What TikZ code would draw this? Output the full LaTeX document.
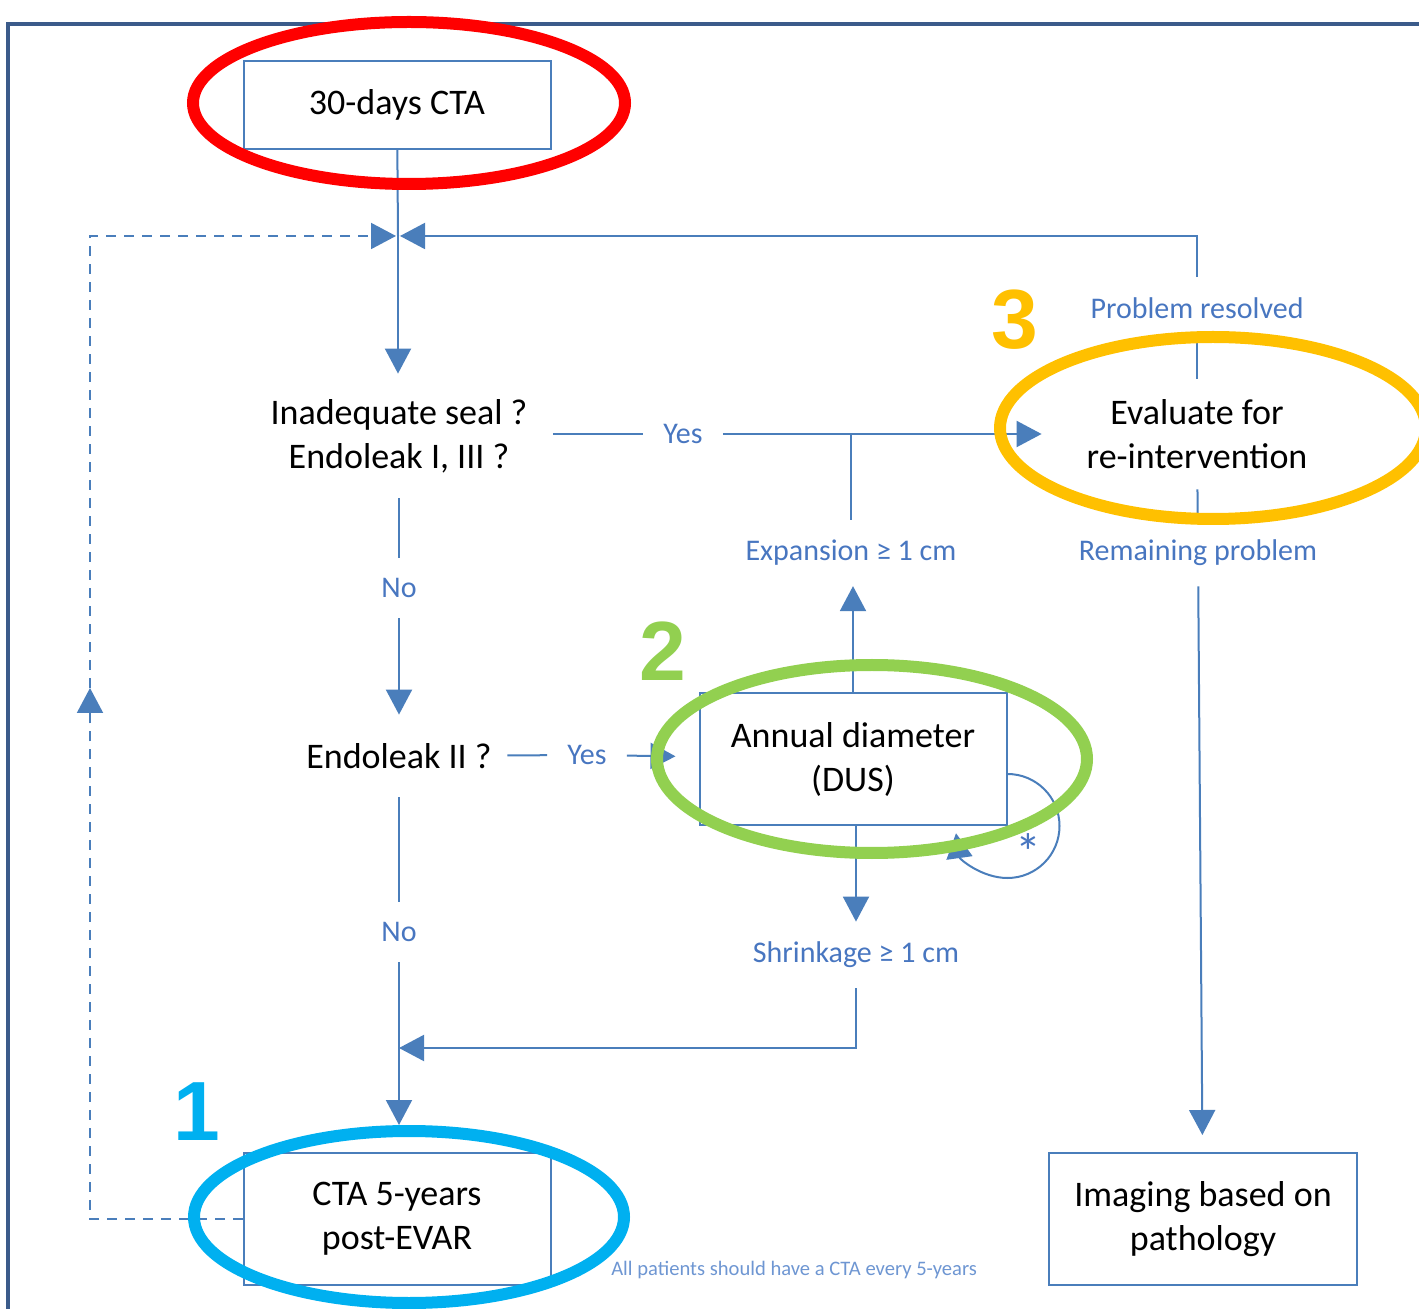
\documentclass[tikz,border=0pt]{standalone}
\usepackage{fontspec}
\setmainfont{Carlito}
\newfontfamily\numfont{Liberation Sans}
\usetikzlibrary{arrows.meta, positioning, calc}
\definecolor{lineblue}{RGB}{74,126,187}
\definecolor{labelblue}{RGB}{72,118,192}
\definecolor{noteblue}{RGB}{110,150,210}
\definecolor{framedark}{RGB}{59,91,138}
\definecolor{markred}{RGB}{255,0,0}
\definecolor{markcyan}{RGB}{0,176,240}
\definecolor{markgreen}{RGB}{146,208,80}
\definecolor{markamber}{RGB}{255,192,0}

\begin{document}
\begin{tikzpicture}[
    x=0.5pt, y=-0.5pt,
    every node/.style={font=\fontsize{18}{22}\selectfont},
    box/.style={rectangle, draw=lineblue, line width=1pt, minimum width=153.5pt, minimum height=66pt, align=center},
    question/.style={rectangle, align=center, inner sep=0pt},
    lbl/.style={font=\fontsize{15}{18}\selectfont, text=labelblue, inner xsep=10pt, inner ysep=10pt},
    arrow/.style={-{Triangle[length=12.5pt, width=13pt]}, lineblue, line width=1pt},
    link/.style={lineblue, line width=1pt},
    dashlink/.style={lineblue, line width=1pt, dash pattern=on 5pt off 4pt},
    ring/.style={line width=6pt},
    digit/.style={font=\numfont\bfseries\fontsize{42}{42}\selectfont}
]
\useasboundingbox (0,0) rectangle (1419,1309);
% frame
\draw[framedark, line width=2pt] (8,1330) -- (8,24) -- (1440,24);

% boxes and questions
\node[box, minimum height=44pt] (cta30) at (397,105) {30-days CTA};
\node[question, minimum width=153.5pt, minimum height=62pt] (seal) at (399,436) {Inadequate seal ?\\Endoleak I, III ?};
\node[question, minimum width=155pt, minimum height=55pt] (eval) at (1197,434) {Evaluate for\\re-intervention};
\node[question, minimum width=108pt, minimum height=41pt] (leak2) at (399,756) {Endoleak II ?};
\node[box] (dus) at (853,759) {Annual diameter\\(DUS)};
\node[box] (cta5) at (397,1219) {CTA 5-years\\post-EVAR};
\node[box, minimum width=154pt] (img) at (1203,1219) {Imaging based on\\pathology};

% connector labels
\node[lbl] (yes1) at (683,434) {Yes};
\node[lbl] (yes2) at (587,755) {Yes};
\node[lbl] (no1) at (399,588) {No};
\node[lbl] (no2) at (399,932) {No};
\node[lbl] (exp) at (851,553) {Expansion ≥ 1 cm};
\node[lbl] (shr) at (856,955) {Shrinkage ≥ 1 cm};
\node[lbl] (res) at (1197,308) {Problem resolved};
\node[lbl] (rem) at (1198,553) {Remaining problem};
\node[lbl, font=\fontsize{26}{26}\selectfont, inner sep=0pt] (star) at (1028,852) {*};
\node[font=\fontsize{10.3}{12}\selectfont, text=noteblue, inner sep=0pt] (note) at (780,1270) {*\hspace{9pt}All patients should have a CTA every 5-years};

\coordinate (mrg) at (398,236);
\coordinate (upmid) at (90,688);
\coordinate (join) at (399,1048);

% flow
\draw[link] (cta30) -- (mrg);
\draw[arrow] (mrg) -- (mrg |- seal.north);
\draw[link] (seal.east |- yes1) -- (yes1);
\draw[arrow] (yes1) -- (eval);
\draw[link] (exp.north) -- (exp.north |- eval.west);
\draw[link] (seal) -- (no1);
\draw[arrow] (no1) -- (leak2);
\draw[link] (leak2) -- (yes2);
\draw[arrow, shorten >=11.5pt] (yes2) -- (dus);
\draw[arrow] (dus.north) -- (dus.north |- exp.south);
\draw[arrow] (dus.south -| shr) -- (shr);
\draw[arrow] (shr) |- (join);
\draw[arrow] ($(dus.south east)+(0,-52)$) arc[start angle=-90, end angle=172, radius=52];
\draw[link] (leak2) -- (no2);
\draw[arrow, shorten >=13.5pt] (no2) -- (no2 |- cta5.north);
\draw[link] (res) -- (eval);
\draw[arrow, shorten >=1pt] (res) |- (mrg);
\draw[link] (eval) -- (rem);
\draw[arrow, shorten >=8.5pt] (rem) -- (img);
\draw[dashlink, -{Triangle[length=12.5pt, width=13pt]}] (cta5.west) -| (upmid);
\draw[dashlink, -{Triangle[length=12.5pt, width=13pt]}, shorten >=1pt] (upmid) |- (mrg);

% highlight rings
\draw[ring, markred] (409,103) ellipse[x radius=216, y radius=81];
\draw[ring, markamber] (1213,428) ellipse[x radius=213, y radius=91];
\draw[ring, markgreen] (872,759) ellipse[x radius=215, y radius=94];
\draw[ring, markcyan] (409,1217) ellipse[x radius=215, y radius=86];
\node[digit, text=markcyan] (n1) at (197,1112) {1};
\node[digit, text=markgreen] (n2) at (663,651) {2};
\node[digit, text=markamber] (n3) at (1015,320) {3};
\end{tikzpicture}
\end{document}
